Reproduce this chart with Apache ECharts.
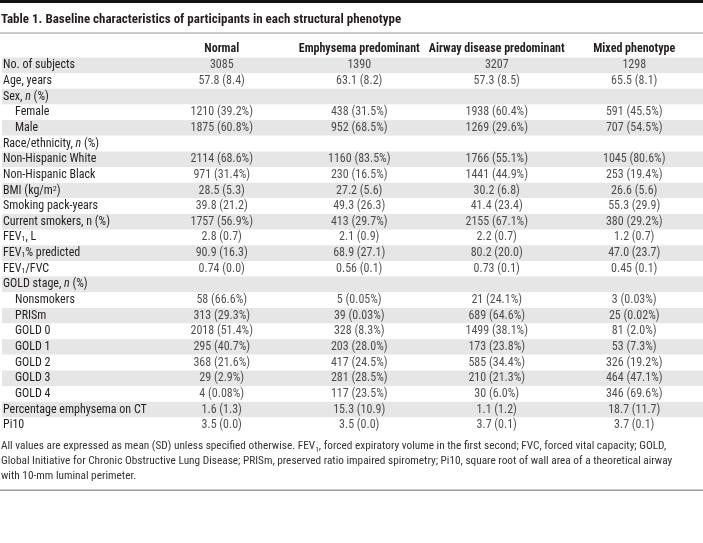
<!DOCTYPE html>
<html><head><meta charset="utf-8">
<script src="https://cdn.jsdelivr.net/npm/echarts@6/dist/echarts.min.js"></script>
<style>html,body{margin:0;padding:0;background:#fff}#c{width:703px;height:543px}</style>
</head><body><div id="c"></div>
<script>
const FONT = '"Liberation Sans Narrow", "Roboto Condensed", Roboto, sans-serif';
const titleText = 'Table 1. Baseline characteristics of participants in each structural phenotype';
const columns = ['Normal', 'Emphysema predominant', 'Airway disease predominant', 'Mixed phenotype'];
const rowLabels = ['No. of subjects', 'Age, years', 'Sex, _n_ (%)', 'Female', 'Male', 'Race/ethnicity, _n_ (%)',
  'Non-Hispanic White', 'Non-Hispanic Black', 'BMI (kg/m²)', 'Smoking pack-years', 'Current smokers, n (%)',
  'FEV₁, L', 'FEV₁% predicted', 'FEV₁/FVC', 'GOLD stage, _n_ (%)', 'Nonsmokers', 'PRISm', 'GOLD 0', 'GOLD 1',
  'GOLD 2', 'GOLD 3', 'GOLD 4', 'Percentage emphysema on CT', 'Pi10'];
const indentedRows = ['Female', 'Male', 'Nonsmokers', 'PRISm', 'GOLD 0', 'GOLD 1', 'GOLD 2', 'GOLD 3', 'GOLD 4'];
const normal = ['3085', '57.8 (8.4)', '', '1210 (39.2%)', '1875 (60.8%)', '', '2114 (68.6%)', '971 (31.4%)', '28.5 (5.3)',
  '39.8 (21.2)', '1757 (56.9%)', '2.8 (0.7)', '90.9 (16.3)', '0.74 (0.0)', '', '58 (66.6%)', '313 (29.3%)',
  '2018 (51.4%)', '295 (40.7%)', '368 (21.6%)', '29 (2.9%)', '4 (0.08%)', '1.6 (1.3)', '3.5 (0.0)'];
const emphysema = ['1390', '63.1 (8.2)', '', '438 (31.5%)', '952 (68.5%)', '', '1160 (83.5%)', '230 (16.5%)', '27.2 (5.6)',
  '49.3 (26.3)', '413 (29.7%)', '2.1 (0.9)', '68.9 (27.1)', '0.56 (0.1)', '', '5 (0.05%)', '39 (0.03%)',
  '328 (8.3%)', '203 (28.0%)', '417 (24.5%)', '281 (28.5%)', '117 (23.5%)', '15.3 (10.9)', '3.5 (0.0)'];
const airway = ['3207', '57.3 (8.5)', '', '1938 (60.4%)', '1269 (29.6%)', '', '1766 (55.1%)', '1441 (44.9%)', '30.2 (6.8)',
  '41.4 (23.4)', '2155 (67.1%)', '2.2 (0.7)', '80.2 (20.0)', '0.73 (0.1)', '', '21 (24.1%)', '689 (64.6%)',
  '1499 (38.1%)', '173 (23.8%)', '585 (34.4%)', '210 (21.3%)', '30 (6.0%)', '1.1 (1.2)', '3.7 (0.1)'];
const mixed = ['1298', '65.5 (8.1)', '', '591 (45.5%)', '707 (54.5%)', '', '1045 (80.6%)', '253 (19.4%)', '26.6 (5.6)',
  '55.3 (29.9)', '380 (29.2%)', '1.2 (0.7)', '47.0 (23.7)', '0.45 (0.1)', '', '3 (0.03%)', '25 (0.02%)',
  '81 (2.0%)', '53 (7.3%)', '326 (19.2%)', '464 (47.1%)', '346 (69.6%)', '18.7 (11.7)', '3.7 (0.1)'];
const columnValues = [normal, emphysema, airway, mixed];
const footnote = 'All values are expressed as mean (SD) unless specified otherwise. FEV₁, forced expiratory volume in the first second; FVC, forced vital capacity; GOLD,\nGlobal Initiative for Chronic Obstructive Lung Disease; PRISm, preserved ratio impaired spirometry; Pi10, square root of wall area of a theoretical airway\nwith 10-mm luminal perimeter.';

const TXT = '#231f20';
const FS = 12;
const richStyles = {
  sub: { fontSize: 8, fontFamily: FONT, color: TXT, verticalAlign: 'bottom', lineHeight: 12, padding: [5, 0, 0, 0] },
  sup: { fontSize: 8, fontFamily: FONT, color: TXT, verticalAlign: 'top', lineHeight: 12, padding: [0, 0, 5, 0] },
  i: { fontSize: FS, fontFamily: FONT, color: TXT, fontStyle: 'italic' },
  ind: { fontSize: FS, fontFamily: FONT, color: TXT, padding: [0, 0, 0, 12] }
};
function toRich(s) {
  if (indentedRows.includes(s)) return '{ind|' + s + '}';
  return s.replace(/₁/g, '{sub|1}').replace(/²/g, '{sup|2}').replace(/_n_/g, '{i|n}');
}

const gridTop = 57.5, rowH = 15.65, gridH = rowH * rowLabels.length;
const chart = echarts.init(document.getElementById('c'), null, { renderer: 'canvas' });
chart.setOption({
  animation: false,
  title: { text: titleText, left: 1, top: 13, padding: 0,
    textStyle: { fontFamily: FONT, fontSize: 13, fontWeight: 'bold', color: TXT } },
  grid: [
    { left: 0, top: gridTop, width: 703, height: gridH, containLabel: false },
    { left: 153, top: gridTop, width: 553, height: gridH, containLabel: false }
  ],
  xAxis: [
    { gridIndex: 0, type: 'value', show: false, min: 0, max: 1 },
    { gridIndex: 1, type: 'category', data: columns, position: 'top',
      axisLine: { show: false }, axisTick: { show: false }, splitLine: { show: false },
      axisLabel: { margin: 3, fontFamily: FONT, fontSize: FS, fontWeight: 'bold', color: TXT, interval: 0 } }
  ],
  yAxis: [
    { gridIndex: 0, type: 'category', data: rowLabels, inverse: true,
      axisLine: { show: false }, axisTick: { show: false }, splitLine: { show: false },
      splitArea: { show: true, areaStyle: { color: ['#e6e6e6', '#ffffff'] } },
      axisLabel: { inside: true, margin: 1, align: 'left', interval: 0, fontFamily: FONT, fontSize: FS, color: TXT,
        formatter: toRich, rich: richStyles } },
    { gridIndex: 1, type: 'category', data: rowLabels, inverse: true, show: false }
  ],
  series: columns.map((name, ci) => ({
    type: 'scatter', name: name, xAxisIndex: 1, yAxisIndex: 1,
    symbolSize: 1, itemStyle: { color: 'rgba(0,0,0,0)' },
    data: columnValues[ci].map((v, ri) => [ci, ri, v]).filter(d => d[2] !== ''),
    label: { show: true, position: 'inside', formatter: p => p.value[2],
      fontFamily: FONT, fontSize: FS, color: TXT }
  })),
  graphic: [
    { type: 'rect', left: 0, top: 0, shape: { width: 703, height: 3 }, style: { fill: '#111' } },
    { type: 'rect', left: 0, top: 32.5, shape: { width: 703, height: 1 }, style: { fill: '#9a9a9a' } },
    { type: 'rect', left: 0, top: 489.5, shape: { width: 703, height: 1.5 }, style: { fill: '#9a9a9a' } },
    { type: 'text', left: 1, top: 439,
      style: { text: footnote.replace(/₁/g, '{sub|1}'), fontFamily: FONT, fontSize: 11.3, lineHeight: 15, fill: '#333',
        rich: { sub: { fontSize: 7.5, fontFamily: FONT, fill: '#333', verticalAlign: 'bottom', lineHeight: 12, padding: [5, 0, 0, 0] } } } }
  ]
});
</script></body></html>
